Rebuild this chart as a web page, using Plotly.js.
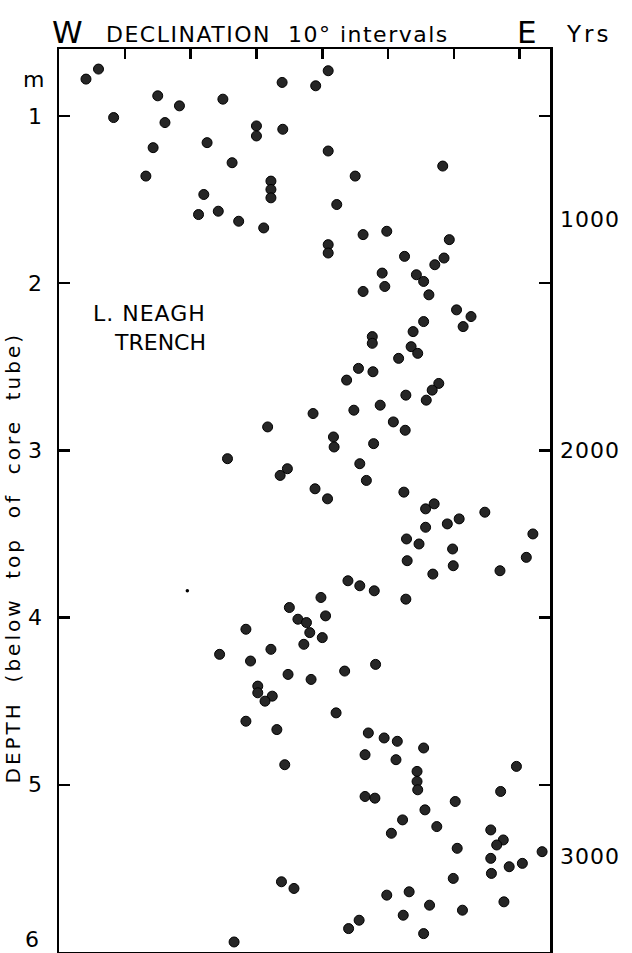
<!DOCTYPE html>
<html>
<head>
<meta charset="utf-8">
<script src="https://cdn.plot.ly/plotly-3.0.1.min.js"></script>
<style>
html,body{margin:0;padding:0;background:#fff;}
#chart{width:632px;height:953px;}
</style>
</head>
<body>
<div id="chart"></div>
<script>
// Declination (degrees, W negative / E positive) and depth below top of core tube (m)
const declination = [
-35.9,-34.0,-31.7,-25.0,-21.7,-23.9,-25.7,-26.8,-15.1,-17.5,-13.7,-18.0,-18.8,-15.8,-12.7,-8.9,-10.0,-10.0,-6.1,-6.0,-7.8,-7.8,-7.8,
0.9,-1.0,0.9,5.0,2.2,18.3,6.2,9.8,0.9,0.9,19.3,12.5,18.5,17.1,9.1,14.3,
6.2,9.5,15.4,16.2,20.4,22.6,21.4,15.4,13.8,7.6,7.6,13.5,14.5,11.6,5.5,7.7,3.7,17.7,16.7,15.8,12.7,8.8,4.8,-1.4,10.8,12.6,1.7,1.8,7.8,5.7,6.7,-1.1,0.8,12.4,15.7,17.0,24.7,20.8,19.0,15.7,
-8.3,-14.4,-6.4,-5.3,
-5.0,-3.7,-2.4,-1.9,-2.8,-11.6,-7.8,-15.6,-10.9,-5.2,-1.7,-9.8,-9.8,-7.6,-8.7,-11.6,-6.9,-5.7,
12.8,14.7,12.9,19.8,19.9,16.8,27.0,31.0,32.0,3.9,5.7,7.9,12.7,-0.2,0.5,0.0,8.1,3.4,2.1,7.0,9.4,11.4,15.4,6.5,11.2,14.4,29.5,
-6.2,-4.3,-13.4,
14.4,14.5,6.5,8.0,27.1,20.2,15.6,12.2,17.4,10.5,25.6,27.5,26.5,33.4,20.5,25.6,28.4,30.4,25.7,19.9,9.8,13.2,16.3,21.3,27.6,12.3,5.6,4.0,15.4
];
const depth = [
0.78,0.72,1.01,0.88,0.94,1.04,1.19,1.36,0.90,1.16,1.28,1.47,1.59,1.57,1.63,1.67,1.06,1.12,0.80,1.08,1.39,1.44,1.49,
0.73,0.82,1.21,1.36,1.53,1.30,1.71,1.69,1.77,1.82,1.74,1.84,1.85,1.89,1.94,1.95,
2.05,2.02,1.99,2.07,2.16,2.20,2.26,2.23,2.29,2.32,2.36,2.38,2.42,2.45,2.51,2.53,2.58,2.60,2.64,2.70,2.67,2.73,2.76,2.78,2.83,2.88,2.92,2.98,2.96,3.08,3.18,3.23,3.29,3.25,3.35,3.32,3.37,3.41,3.44,3.46,
2.86,3.05,3.15,3.11,
3.94,4.01,4.03,4.09,4.16,4.07,4.19,4.22,4.26,4.34,4.37,4.41,4.45,4.47,4.50,4.62,4.67,4.88,
3.53,3.56,3.66,3.59,3.69,3.74,3.72,3.64,3.50,3.78,3.81,3.84,3.89,3.88,3.99,4.12,4.28,4.32,4.57,4.69,4.72,4.74,4.78,4.82,4.85,4.92,4.89,
5.58,5.62,5.94,
4.98,5.03,5.07,5.08,5.04,5.10,5.15,5.21,5.25,5.29,5.27,5.33,5.36,5.40,5.38,5.44,5.49,5.47,5.53,5.56,5.66,5.64,5.72,5.75,5.70,5.78,5.81,5.86,5.89
];
// stray small mark on the original figure
const smallDecl = [-20.5];
const smallDepth = [3.84];

const declTicks = [-30,-20,-10,0,10,20,30];
const depthTicks = [1,2,3,4,5];
const depthTickText = ['1','2','3','4','5'];
const yrsLabels = ['1000','2000','3000'];
const yrsDepth = [1.62,3.0,5.43];

const FONT = 'DejaVu Sans, Liberation Sans, sans-serif';

const traces = [
  {x: declination, y: depth, type:'scatter', mode:'markers',
   marker:{size:10, color:'#262626', line:{color:'#000', width:1}},
   hoverinfo:'skip', showlegend:false},
  {x: smallDecl, y: smallDepth, type:'scatter', mode:'markers',
   marker:{size:3.5, color:'#000'}, hoverinfo:'skip', showlegend:false}
];

function sp(t, ls){ return '<span style="letter-spacing:'+ls+'px">'+t+'</span>'; }

const ann = [];
function addTxt(text, x, y, size, opts){
  ann.push(Object.assign({text:text, xref:'paper', yref:'paper', x:x, y:y,
    showarrow:false, font:{family:FONT, size:size, color:'#000'},
    xanchor:'center', yanchor:'middle'}, opts||{}));
}
addTxt('W', 0.018, 1.0188, 31);
addTxt(sp('DECLINATION  10° intervals',1.5), 0.446, 1.0166, 22);
addTxt('E', 0.953, 1.0188, 31);
addTxt(sp('Yrs',3), 1.079, 1.0166, 23);
addTxt('m', -0.051, 0.9657, 22);
addTxt('6', -0.037, 0.0133, 22, {xanchor:'right'});
addTxt(sp('L. NEAGH',1), 0.3035, 0.7076, 22, {xanchor:'right'});
addTxt('TRENCH', 0.3035, 0.6755, 22, {xanchor:'right'});
addTxt(sp('DEPTH  (below  top  of  core  tube)',3), -0.0935, 0.437, 20, {textangle:-90});
yrsLabels.forEach((t,i)=>{
  ann.push({text:sp(t,1), xref:'paper', yref:'y', x:1.0815, y:yrsDepth[i], showarrow:false,
    font:{family:FONT, size:22, color:'#000'}, xanchor:'center', yanchor:'middle'});
});

const layout = {
  width:632, height:953,
  margin:{l:59, r:82, t:49, b:1, pad:0},
  paper_bgcolor:'#fff', plot_bgcolor:'#fff',
  showlegend:false,
  xaxis:{range:[-40,34.6], side:'top', tickvals:declTicks, ticks:'inside', ticklen:10, tickwidth:2.5,
    tickcolor:'#000', showticklabels:false, showline:true, mirror:true, linewidth:2.5, linecolor:'#000',
    showgrid:false, zeroline:false, fixedrange:true},
  yaxis:{range:[6.0,0.6], tickvals:depthTicks, ticktext:depthTickText, ticks:'inside', ticklen:11,
    tickwidth:2.5, tickcolor:'#000', showline:true, mirror:'ticks', linewidth:2.5, linecolor:'#000',
    showgrid:false, zeroline:false, ticklabelstandoff:10,
    tickfont:{family:FONT, size:22, color:'#000'}, fixedrange:true},
  annotations: ann
};

Plotly.newPlot('chart', traces, layout, {displayModeBar:false, staticPlot:true});
</script>
</body>
</html>
